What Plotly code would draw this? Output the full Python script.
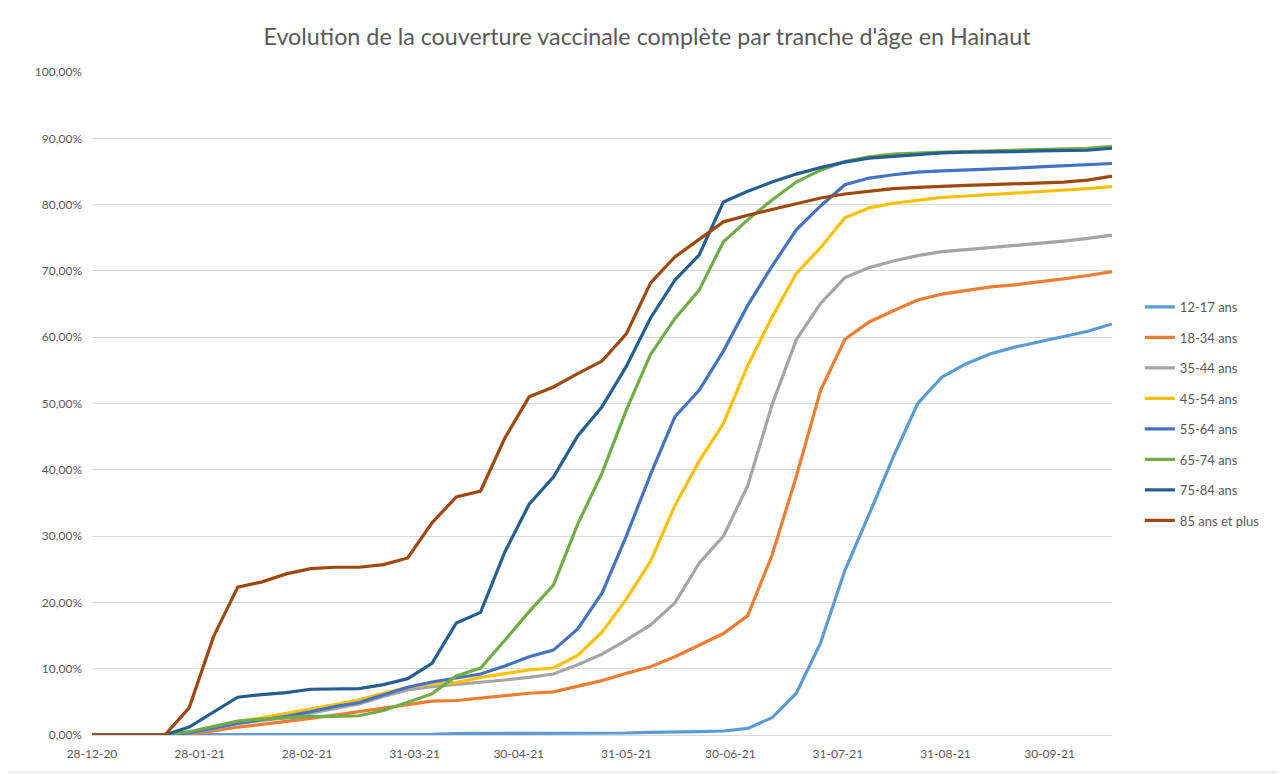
import pandas as pd
import plotly.graph_objects as go

dates = pd.date_range("2020-12-28", periods=43, freq="7D")

series_names = ["12-17 ans", "18-34 ans", "35-44 ans", "45-54 ans",
                "55-64 ans", "65-74 ans", "75-84 ans", "85 ans et plus"]
colors = ["#5B9BD5", "#ED7D31", "#A5A5A5", "#FFC000",
          "#4472C4", "#70AD47", "#255E91", "#9E480E"]

v_12_17 = [0, 0, 0, 0, 0, 0, 0, 0, 0, 0, 0, 0, 0, 0, 0.1, 0.2, 0.2, 0.2, 0.2, 0.2, 0.2,
           0.3, 0.3, 0.4, 0.4, 0.5, 0.6, 1.0, 2.6, 6.3, 13.9, 24.8, 33.3, 42.0, 50.0,
           54.0, 56.0, 57.5, 58.5, 59.3, 60.0, 60.9, 62.0]
v_18_34 = [0, 0, 0, 0, 0.1, 0.6, 1.2, 1.6, 2.0, 2.5, 3.0, 3.5, 4.0, 4.5, 5.1, 5.2, 5.6,
           6.0, 6.3, 6.5, 7.4, 8.2, 9.3, 10.3, 11.8, 13.6, 15.3, 18.0, 27.1, 39.0, 52.0,
           59.7, 62.3, 64.0, 65.6, 66.5, 67.1, 67.6, 67.9, 68.3, 68.8, 69.3, 69.9]
v_35_44 = [0, 0, 0, 0, 0.2, 0.9, 1.7, 2.2, 2.6, 3.3, 4.0, 4.7, 5.8, 6.8, 7.3, 7.6, 7.9,
           8.3, 8.7, 9.2, 10.6, 12.2, 14.3, 16.6, 19.9, 25.9, 30.0, 37.6, 49.8, 59.6, 65.1,
           69.0, 70.5, 71.5, 72.3, 72.9, 73.2, 73.5, 73.8, 74.1, 74.5, 74.9, 75.4]
v_45_54 = [0, 0, 0, 0, 0.3, 1.1, 2.0, 2.6, 3.2, 3.9, 4.6, 5.3, 6.3, 7.2, 7.7, 7.9, 8.7,
           9.3, 9.8, 10.1, 12.0, 15.5, 20.5, 26.2, 34.6, 41.3, 47.0, 55.7, 63.0, 69.6, 73.5,
           78.0, 79.5, 80.2, 80.7, 81.1, 81.3, 81.5, 81.7, 81.9, 82.2, 82.4, 82.7]
v_55_64 = [0, 0, 0, 0, 0.3, 1.0, 1.8, 2.3, 2.8, 3.5, 4.3, 4.9, 6.1, 7.2, 8.0, 8.6, 9.2,
           10.4, 11.8, 12.8, 16.0, 21.4, 30.0, 39.3, 48.0, 52.0, 57.9, 64.8, 70.7, 76.2, 79.8,
           83.0, 84.0, 84.5, 84.9, 85.1, 85.2, 85.3, 85.5, 85.7, 85.9, 86.1, 86.2]
v_65_74 = [0, 0, 0, 0, 0.5, 1.3, 2.1, 2.4, 2.6, 2.8, 2.8, 2.9, 3.7, 5.0, 6.2, 8.9, 10.1,
           14.3, 18.6, 22.6, 31.8, 39.5, 49.0, 57.4, 62.8, 67.1, 74.4, 77.7, 80.7, 83.4, 85.2,
           86.5, 87.2, 87.6, 87.8, 87.9, 88.0, 88.1, 88.2, 88.3, 88.4, 88.5, 88.8]
v_75_84 = [0, 0, 0, 0, 1.2, 3.4, 5.7, 6.1, 6.4, 6.9, 7.0, 7.0, 7.6, 8.5, 10.8, 16.9, 18.5,
           27.6, 34.8, 38.9, 45.1, 49.5, 55.6, 62.9, 68.6, 72.4, 80.4, 82.0, 83.4, 84.6, 85.6,
           86.4, 87.0, 87.3, 87.6, 87.8, 87.9, 87.9, 88.0, 88.1, 88.2, 88.2, 88.5]
v_85_plus = [0, 0, 0, 0, 4.1, 14.8, 22.3, 23.1, 24.3, 25.1, 25.3, 25.3, 25.7, 26.7, 32.0,
             35.9, 36.8, 44.8, 51.0, 52.5, 54.5, 56.4, 60.5, 68.2, 72.1, 74.7, 77.4, 78.4,
             79.3, 80.2, 81.0, 81.6, 82.0, 82.4, 82.6, 82.8, 82.9, 83.0, 83.1, 83.2, 83.4,
             83.7, 84.3]

all_values = [v_12_17, v_18_34, v_35_44, v_45_54, v_55_64, v_65_74, v_75_84, v_85_plus]

tick_dates = ["2020-12-28", "2021-01-28", "2021-02-28", "2021-03-31", "2021-04-30",
              "2021-05-31", "2021-06-30", "2021-07-31", "2021-08-31", "2021-09-30"]
tick_labels = ["28-12-20", "28-01-21", "28-02-21", "31-03-21", "30-04-21",
               "31-05-21", "30-06-21", "31-07-21", "31-08-21", "30-09-21"]

FONT = "Lato, 'Open Sans', sans-serif"
TXT = "#595959"

fig = go.Figure()
for name, col, vals in zip(series_names, colors, all_values):
    fig.add_trace(go.Scatter(
        x=dates, y=[v / 100 for v in vals], mode="lines", name=name,
        legendgroup=name,
        line=dict(color=col, width=3.2, shape="linear"),
    ))

# page body has an 8px margin: work in figure coordinates (screen - 8)
OFF = 8
W, H = 1286 - OFF, 774 - OFF
L, R, T, B = 92 - OFF, 1112 - OFF, 72 - OFF, 735 - OFF
PW, PH = R - L, B - T

fig.update_layout(
    width=W, height=H,
    margin=dict(l=L, r=W - R, t=T, b=H - B, autoexpand=False),
    paper_bgcolor="white", plot_bgcolor="white",
    separators=", ",
    font=dict(family=FONT, color=TXT, size=12),
    title=dict(text="Evolution de la couverture vaccinale complète par tranche d'âge en Hainaut",
               x=(647 - OFF) / W, xanchor="center", y=1 - (37 - OFF) / H, yanchor="middle",
               font=dict(family=FONT, size=23.3, color=TXT)),
    legend=dict(x=(1148 - OFF - L) / PW - 0.008, y=(B - (292 - OFF)) / PH,
                xanchor="left", yanchor="top",
                font=dict(family=FONT, size=13, color=TXT),
                tracegroupgap=10.6, bgcolor="rgba(0,0,0,0)"),
    showlegend=True,
)
fig.update_xaxes(
    type="date", range=["2020-12-28", "2021-10-18"],
    tickvals=tick_dates, ticktext=tick_labels, tickangle=0,
    showgrid=False, showline=True, linecolor="#D9D9D9", linewidth=1,
    ticks="", zeroline=False, ticklabelstandoff=8,
    tickfont=dict(family=FONT, size=12, color=TXT),
)
fig.update_yaxes(
    range=[0, 1], dtick=0.1, tickformat=".2%",
    showgrid=True, gridcolor="#D9D9D9", gridwidth=1,
    zeroline=False, showline=False, ticks="", ticklabelstandoff=9,
    tickfont=dict(family=FONT, size=12, color=TXT),
)
fig.add_shape(type="rect", xref="paper", yref="paper",
              x0=(7 - OFF - L) / PW, x1=(W - 1 - L) / PW,
              y0=(B - (772 - OFF)) / PH, y1=(B + 2) / PH,
              line=dict(color="#D9D9D9", width=1), layer="below")

fig.write_html("out.html")
